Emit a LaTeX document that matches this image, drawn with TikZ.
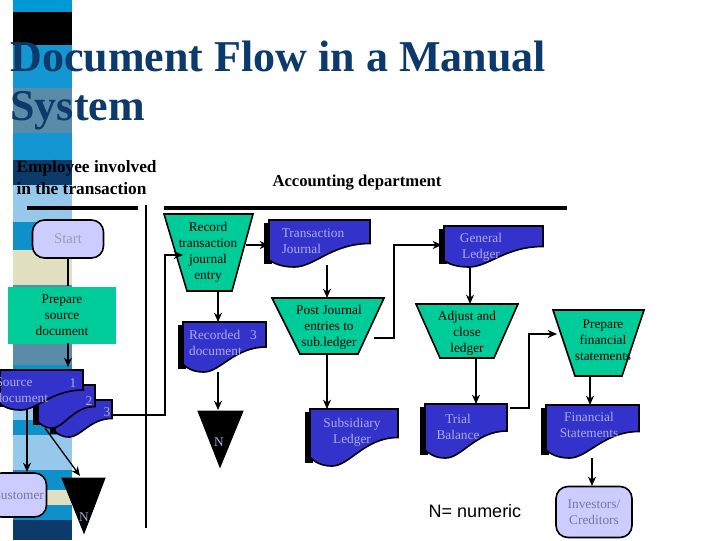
\documentclass[tikz,border=0pt]{standalone}
\usepackage{fontspec}
\setmainfont{Liberation Serif}
\newfontfamily\keyfont{Liberation Sans}
\usetikzlibrary{arrows.meta}
\definecolor{titleblue}{RGB}{11,58,107}
\definecolor{docblue}{RGB}{51,51,204}
\definecolor{docgreen}{RGB}{0,204,153}
\definecolor{termfill}{RGB}{204,204,255}
\definecolor{paletext}{RGB}{170,170,230}
\tikzset{every picture/.style={line width=0.75pt}}
\tikzset{
  doc/.style={draw, fill=docblue, line width=1.2pt},
  proc/.style={draw, fill=docgreen, line width=1.2pt},
  lbl/.style={inner sep=0.75pt, align=center, font=\fontsize{10}{12}\selectfont},
  doctext/.style={lbl, text=paletext},
  term/.style={draw, fill=termfill, rounded corners=9pt, line width=1.2pt, inner sep=0.75pt, align=center, font=\fontsize{10}{12}\selectfont, text=paletext!70!black},
  flow/.style={-{Stealth[length=7pt,width=6pt]}, line width=1pt},
}
% document shape: x, y, width, height
\newcommand{\docpath}[4]{%
  \fill (#1-5,#2+3) rectangle (#1+3,#2+#4-3);
  \draw[doc] (#1,#2) -- (#1+#3,#2) -- (#1+#3,#2+0.5*#4)
    .. controls (#1+0.62*#3,#2+0.5*#4) and (#1+0.45*#3,#2+#4) .. (#1+0.25*#3,#2+#4)
    .. controls (#1+0.12*#3,#2+#4) and (#1+0.05*#3,#2+0.92*#4) .. (#1,#2+0.85*#4) -- cycle;}
% trapezoid: top left, top right, bottom left, bottom right, top y, bottom y
\newcommand{\trappath}[6]{%
  \draw[proc] (#1,#5) -- (#2,#5) -- (#4,#6) -- (#3,#6) -- cycle;}

\begin{document}
\begin{tikzpicture}[x=0.75pt,y=0.75pt,yscale=-1,xscale=1]
\useasboundingbox (0,0) rectangle (720,540);
\fill[white] (0,0) rectangle (720,540);

%left stripe
\foreach \ya/\yb/\r/\g/\b in {0/12/0/153/214,12/45/0/0/0,45/88/20/150/210,88/133/90/140/170,133/160/20/150/210,160/185/11/58/107,185/222/150/200/235,222/250/16/144/200,250/285/224/224/192,285/365/90/140/170,365/395/16/144/200,395/420/150/200/235,420/435/16/144/200,435/470/150/200/235,470/490/16/144/200,490/505/224/224/192,505/520/16/144/200,520/540/11/58/107}
  \fill[fill={rgb,255:red,\r;green,\g;blue,\b}] (13,\ya) rectangle (72,\yb);

% Title
\node[anchor=north west, inner sep=0pt, align=left, text=titleblue, font=\fontsize{33}{37}\selectfont\bfseries] (title) at (10,40) {Document Flow in a Manual\\System};

% Headings
\node[anchor=north west, inner sep=0pt, align=left, font=\fontsize{13}{16.5}\selectfont\bfseries] (emp) at (16,160) {Employee involved\\ in the transaction};
\node[inner sep=0pt, font=\fontsize{12.5}{14}\selectfont\bfseries] (acc) at (357,183) {Accounting department};
\draw[line width=2.5pt] (27,208) -- (138,208) (164,208) -- (567,208);
\draw[line width=2pt] (146,205) -- (146,528);

% Employee column
\node[term, minimum width=71pt*0.75, minimum height=38pt*0.75, font=\fontsize{11}{13}\selectfont, text=termfill!40!gray] (start) at (68,239) {Start};
\node[fill=docgreen, lbl, minimum width=108*0.75pt, minimum height=57*0.75pt] (prep) at (62,315) {Prepare\\source\\document};
\docpath{55}{400}{57}{37}
\docpath{38}{385}{57}{43}
\docpath{0}{370}{83}{40}
\node[doctext, anchor=west, align=left] (src) at (-6,390) {Source\\document};
\node[doctext] (n1) at (73,383) {1};
\node[doctext] (n2) at (89,401) {2};
\node[doctext] (n3) at (107,412) {3};
\coordinate (src3) at (112,415);
\coordinate (srcA) at (27,410);
\coordinate (srcB) at (45,428);
\node[term, minimum width=57pt*0.75, minimum height=44pt*0.75] (cust) at (18,495) {Customer};
\draw[fill=black] (62,478) -- (105,478) -- (84,533) -- cycle;
\node[lbl, text=paletext] (nA) at (84,517) {N};
\coordinate (nAtop) at (80,476);
\coordinate (prepT) at (68,286);
\coordinate (prepB) at (68,343);

% Record transaction
\trappath{164}{253}{187}{232}{214}{291}
\node[lbl] (rec) at (208,252) {Record\\transaction\\journal\\entry};
\coordinate (recL) at (183,255);
\coordinate (recR) at (246,245);
\coordinate (recB) at (218,291);
\docpath{183}{322}{83}{50}
\node[doctext, align=left] (recd) at (223,343) {Recorded\ \ \ 3\\document};
\coordinate (recdB) at (218,372);
\draw[fill=black] (198,411) -- (243,411) -- (220,467) -- cycle;
\node[lbl, text=paletext] (nB) at (219,442) {N};
\coordinate (nBtop) at (218,410);

% Journal column
\docpath{269}{220}{101}{47}
\node[doctext, align=left] (tj) at (313,241) {Transaction\\Journal};
\coordinate (tjL) at (269,245);
\coordinate (tjB) at (327,265);
\trappath{272}{384}{300}{358}{298}{354}
\node[lbl] (post) at (329,327) {Post Journal\\entries to\\sub.ledger};
\coordinate (postB) at (327,354);
\coordinate (postR) at (374,338);
\docpath{310}{409}{88}{57}
\node[doctext] (sub) at (352,432) {Subsidiary\\Ledger};

% Ledger column
\docpath{444}{226}{99}{41}
\node[doctext] (gl) at (481,247) {General\\Ledger};
\coordinate (glL) at (442,245);
\coordinate (glB) at (470,267);
\trappath{416}{518}{440}{494}{304}{358}
\node[lbl] (adj) at (467,333) {Adjust and\\close\\ledger};
\coordinate (adjB) at (476,358);
\docpath{425}{404}{82}{54}
\node[doctext] (tb) at (458,427) {Trial\\Balance};
\coordinate (tbR) at (510,408);

% Statements column
\trappath{553}{644}{575}{622}{310}{376}
\node[lbl] (pfs) at (603,340) {Prepare\\financial\\statements};
\coordinate (pfsL) at (557,334);
\coordinate (pfsB) at (590,376);
\docpath{546}{405}{93}{53}
\node[doctext] (fs) at (589,425) {Financial\\Statements};
\coordinate (fsB) at (592,458);
\node[term, minimum width=76pt*0.75, minimum height=51pt*0.75] (inv) at (594,512) {Investors/\\Creditors};
\coordinate (invT) at (592,486);

\node[inner sep=0pt, font=\keyfont\fontsize{13.5}{15}\selectfont] (key) at (475,511) {N= numeric};

% connectors
\draw[line width=1pt] (start.south) -- (prepT);
\draw[flow] (prepB) -- (68,367);
\draw[flow] (srcA) -- (27,472);
\draw[flow] (srcB) -- (nAtop);
\draw[flow] (src3) -| (165,255) -- (recL);
\draw[flow] (recR) -- (tjL);
\draw[flow] (recB) -- (218,322);
\draw[flow] (recdB) -- (nBtop);
\draw[flow] (tjB) -- (327,298);
\draw[flow] (postB) -- (327,409);
\draw[flow] (postR) -- (394,338) |- (glL);
\draw[flow] (glB) -- (470,304);
\draw[flow, line width=1.5pt] (adjB) -- (476,404);
\draw[flow] (tbR) -- (529,408) |- (pfsL);
\draw[flow] (pfsB) -- (590,405);
\draw[flow, line width=1.5pt] (fsB) -- (invT);
\end{tikzpicture}
\end{document}
